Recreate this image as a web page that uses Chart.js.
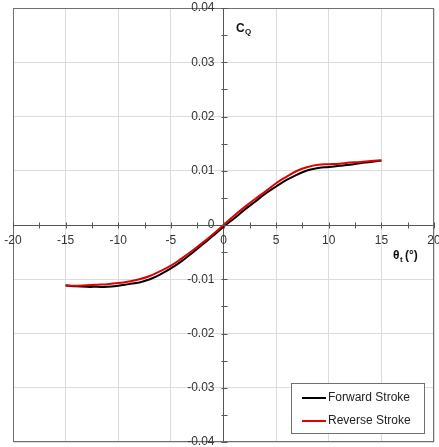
<!DOCTYPE html>
<html>
<head>
<meta charset="utf-8">
<script src="https://cdn.jsdelivr.net/npm/chart.js@4.4.0/dist/chart.umd.min.js"></script>
<style>
html,body{margin:0;padding:0;background:#fff;}
#wrap{position:relative;width:439px;height:447px;}
</style>
</head>
<body>
<div id="wrap"><canvas id="c" width="439" height="447"></canvas></div>
<script>
const theta = [-15,-14,-13,-12,-11,-10,-9,-8,-7,-6,-5,-4,-3,-2,-1,0,1,2,3,4,5,6,7,8,9,10,11,12,13,14,15];
const forwardCQ = [-0.0111,-0.0113,-0.0114,-0.0114,-0.0114,-0.0112,-0.0109,-0.0106,-0.0100,-0.0091,-0.0080,-0.0067,-0.0052,-0.0036,-0.0020,-0.0003,0.0012,0.0028,0.0043,0.0058,0.0071,0.0083,0.0093,0.0101,0.0105,0.0107,0.0109,0.0111,0.0114,0.0116,0.0119];
const reverseCQ = [-0.0112,-0.0112,-0.0111,-0.0110,-0.0109,-0.0107,-0.0104,-0.0100,-0.0094,-0.0085,-0.0075,-0.0062,-0.0048,-0.0033,-0.0017,0.0000,0.0017,0.0033,0.0048,0.0062,0.0077,0.0089,0.0100,0.0107,0.0111,0.0112,0.0113,0.0115,0.0116,0.0118,0.0119];
const seriesNames = ['Forward Stroke','Reverse Stroke'];
const seriesColors = ['#000000','#e00000'];
const xTickValues = [-20,-15,-10,-5,0,5,10,15,20];
const xTickLabels = ['-20','-15','-10','-5','0','5','10','15','20'];
const yTickValues = [-0.04,-0.03,-0.02,-0.01,0,0.01,0.02,0.03,0.04];
const yTickLabels = ['-0.04','-0.03','-0.02','-0.01','0','0.01','0.02','0.03','0.04'];
const xMinorStep = 2.5;
const yMinorStep = 0.005;

const FONT = 'Liberation Sans, Arial, sans-serif';

const toPts = (xs, ys) => xs.map((x,i)=>({x:x, y:ys[i]}));

const decor = {
  id:'decor',
  afterDraw(chart){
    const ctx = chart.ctx, a = chart.chartArea, xs = chart.scales.x, ys = chart.scales.y;
    ctx.save();
    // plot border
    ctx.strokeStyle = '#707070'; ctx.lineWidth = 1;
    ctx.strokeRect(Math.round(a.left)+0.5, Math.round(a.top)+0.5, Math.round(a.right-a.left)-1, Math.round(a.bottom-a.top)-1);
    // ticks on axes
    const x0 = Math.round(xs.getPixelForValue(0))+0.5;
    const y0 = Math.round(ys.getPixelForValue(0))+0.5;
    ctx.strokeStyle = '#555'; ctx.lineWidth = 1;
    ctx.beginPath();
    for (let v = xs.min; v <= xs.max + 1e-9; v += xMinorStep) {
      const px = Math.round(xs.getPixelForValue(v))+0.5;
      ctx.moveTo(px, y0-3); ctx.lineTo(px, y0+3);
    }
    for (let v = ys.min; v <= ys.max + 1e-9; v += yMinorStep) {
      const py = Math.round(ys.getPixelForValue(v))+0.5;
      ctx.moveTo(x0-3, py); ctx.lineTo(x0+3, py);
    }
    ctx.stroke();
    // tick labels
    ctx.fillStyle = '#333';
    ctx.font = '12px ' + FONT;
    ctx.textAlign = 'center'; ctx.textBaseline = 'top';
    xTickValues.forEach((v,i)=>{
      ctx.fillText(xTickLabels[i], xs.getPixelForValue(v), y0 + 9);
    });
    ctx.textAlign = 'right'; ctx.textBaseline = 'middle';
    yTickValues.forEach((v,i)=>{
      ctx.fillText(yTickLabels[i], x0 - 10, ys.getPixelForValue(v));
    });
    // axis titles
    ctx.textAlign = 'left';
    ctx.fillStyle = '#111';
    ctx.textBaseline = 'alphabetic';
    ctx.font = 'bold 12px ' + FONT;
    ctx.fillText('C', 236, 32);
    ctx.font = 'bold 8px ' + FONT;
    ctx.fillText('Q', 245, 34);
    ctx.font = 'bold 12px ' + FONT;
    ctx.fillText('\u03B8', 393, 259);
    ctx.font = 'bold 8px ' + FONT;
    ctx.fillText('t', 400, 262);
    ctx.font = 'bold 12px ' + FONT;
    ctx.fillText('(\u00B0)', 405, 259);
    // legend
    const lx = a.right - 143, ly = a.bottom - 59, lw = 133, lh = 50;
    ctx.fillStyle = '#fff';
    ctx.fillRect(lx, ly, lw, lh);
    ctx.strokeStyle = '#707070'; ctx.lineWidth = 1;
    ctx.strokeRect(Math.round(lx)+0.5, Math.round(ly)+0.5, lw, lh);
    chart.data.datasets.forEach((ds,i)=>{
      const yy = ly + 15 + i*23;
      ctx.strokeStyle = ds.borderColor; ctx.lineWidth = 2;
      ctx.beginPath(); ctx.moveTo(lx+11, yy); ctx.lineTo(lx+35, yy); ctx.stroke();
      ctx.fillStyle = '#222'; ctx.font = '12px ' + FONT;
      ctx.textBaseline = 'middle'; ctx.textAlign = 'left';
      ctx.fillText(ds.label, lx+37, yy);
    });
    ctx.restore();
  }
};

new Chart(document.getElementById('c'), {
  type:'scatter',
  data:{
    datasets:[
      {label:seriesNames[0], data:toPts(theta, forwardCQ), borderColor:seriesColors[0], backgroundColor:seriesColors[0], showLine:true, pointRadius:0, borderWidth:2, tension:0.4, order:2},
      {label:seriesNames[1], data:toPts(theta, reverseCQ), borderColor:seriesColors[1], backgroundColor:seriesColors[1], showLine:true, pointRadius:0, borderWidth:2, tension:0.4, order:1}
    ]
  },
  options:{
    responsive:false, animation:false,
    layout:{padding:{left:13,right:5,top:8,bottom:5}},
    plugins:{legend:{display:false}, tooltip:{enabled:false}},
    scales:{
      x:{
        type:'linear', min:-20, max:20, position:{y:0},
        afterBuildTicks:(s)=>{ s.ticks = xTickValues.map(v=>({value:v})); },
        ticks:{display:false},
        grid:{color:'#dcdcdc', drawTicks:false, lineWidth:1},
        border:{color:'#555', width:1}
      },
      y:{
        type:'linear', min:-0.04, max:0.04, position:{x:0},
        afterBuildTicks:(s)=>{ s.ticks = yTickValues.map(v=>({value:v})); },
        ticks:{display:false},
        grid:{color:'#dcdcdc', drawTicks:false, lineWidth:1},
        border:{color:'#555', width:1}
      }
    }
  },
  plugins:[decor]
});
</script>
</body>
</html>
